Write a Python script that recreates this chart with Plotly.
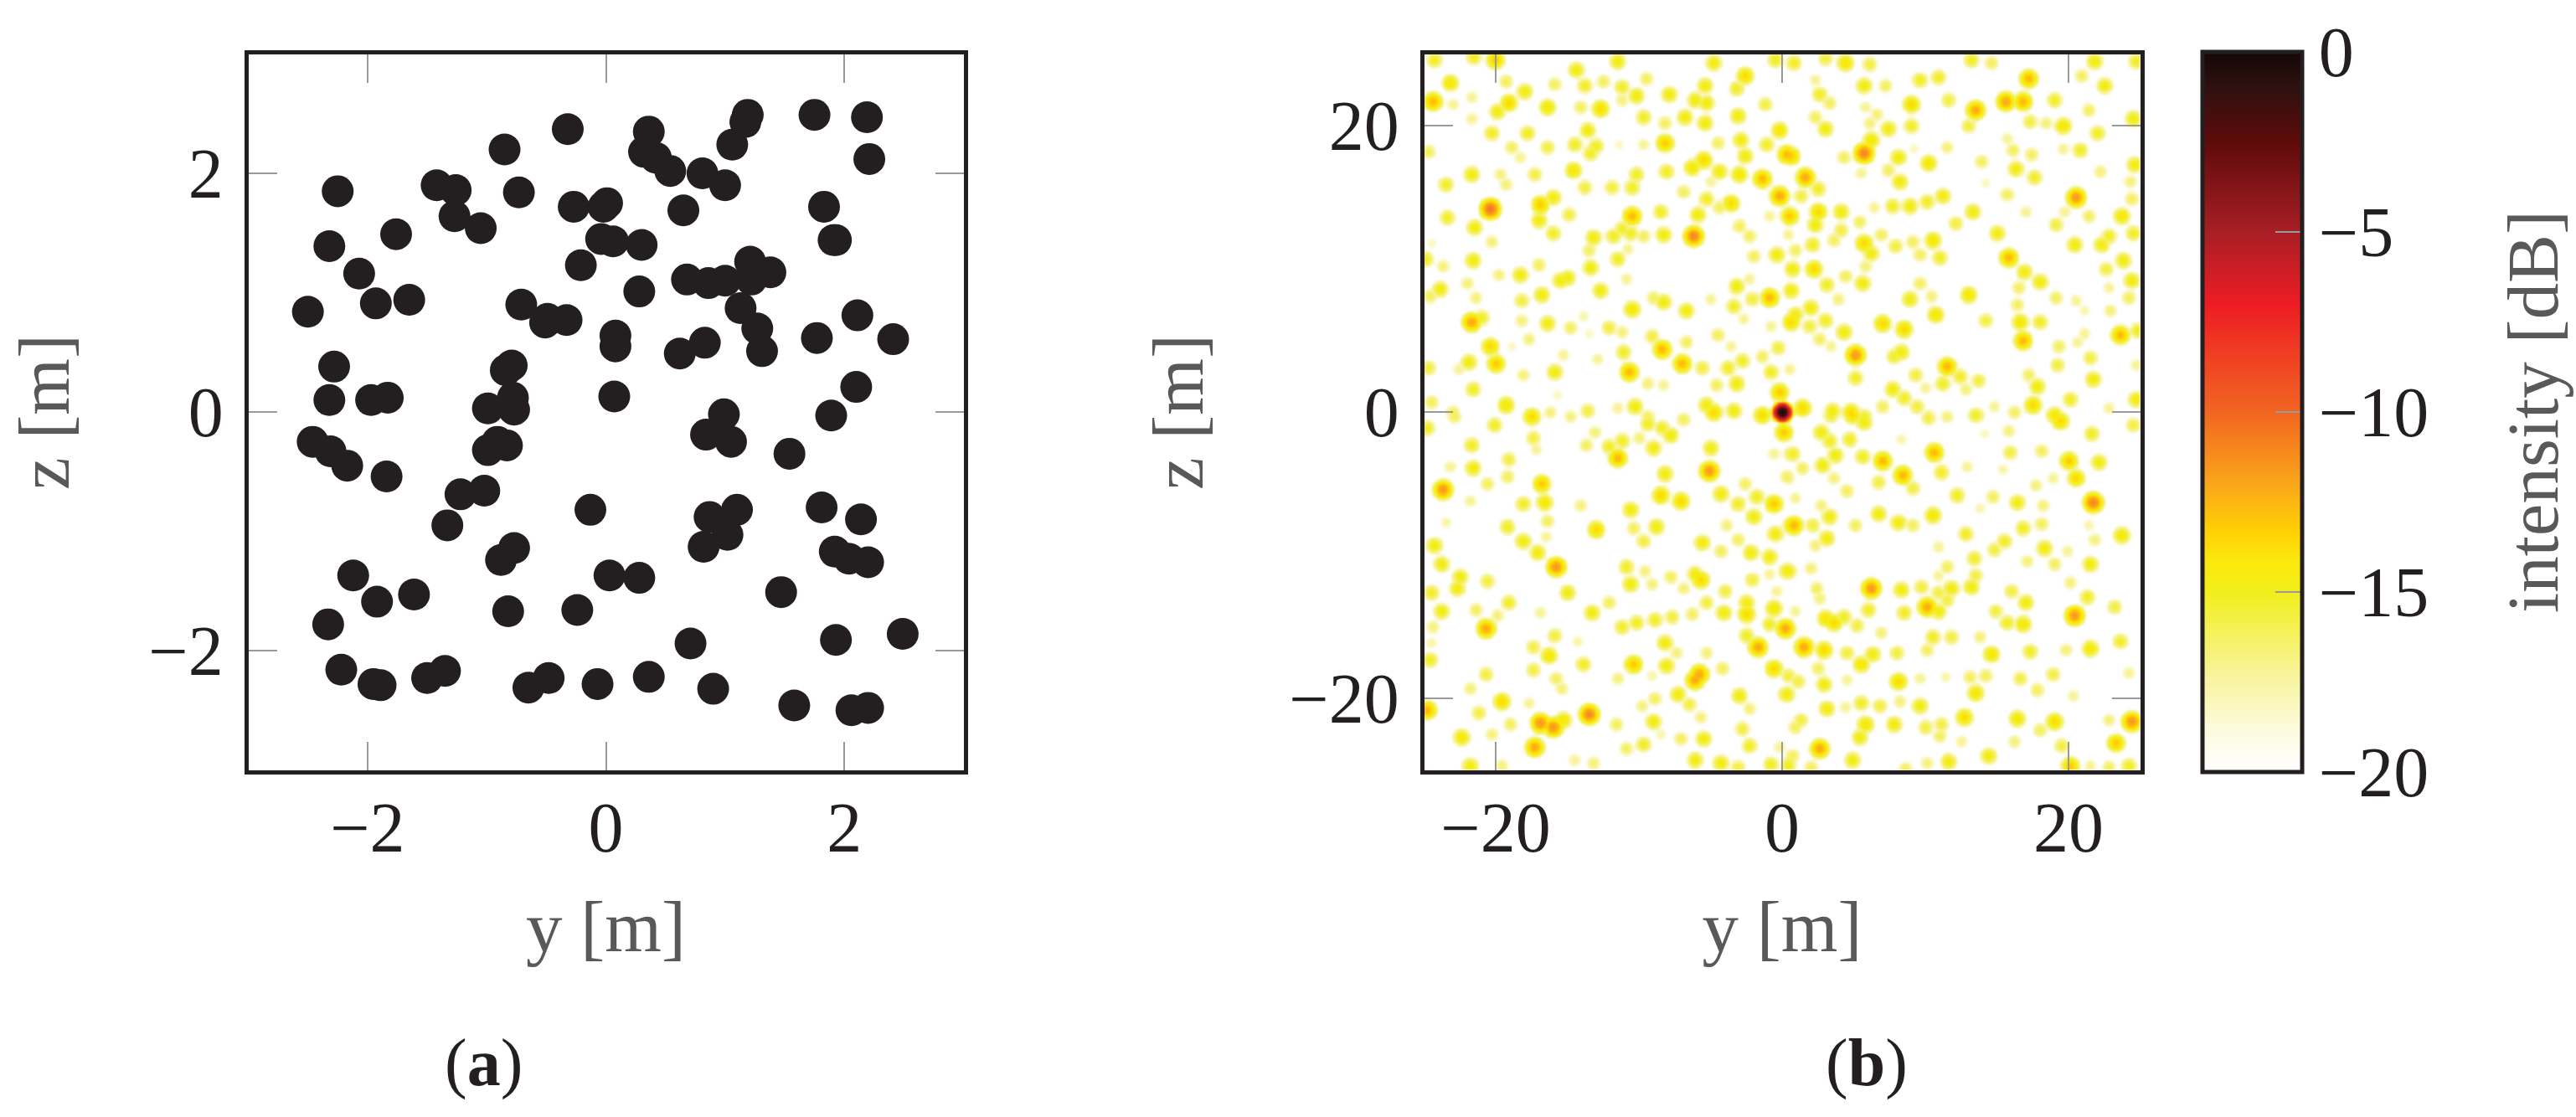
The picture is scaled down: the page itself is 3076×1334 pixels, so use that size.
import numpy as np
import plotly.graph_objects as go

W, H = 3076, 1334
INK = "#231f20"
GREY = "#58595b"
TICK = "#999a9c"
FONT = "Liberation Serif"

# (a) element positions [m]
element_y = [1.19,1.17,1.75,2.19,-0.32,0.36,1.06,-0.85,2.21,0.32,0.42,0.54,0.81,1.00,-2.25,-1.42,-1.26,-0.73,-0.27,0.01,-0.02,0.65,1.83,-1.27,-1.05,-1.76,-2.32,-0.04,0.06,0.30,1.93,1.91,-0.21,-2.07,1.21,1.38,0.68,0.86,1.00,1.22,0.28,-1.93,-1.65,-2.50,-0.71,-0.49,-0.51,-0.33,1.13,1.27,1.31,2.11,0.08,0.08,2.41,1.77,0.83,0.62,-2.28,-0.79,-0.84,-2.32,-1.97,-1.83,-0.78,-0.99,-0.77,0.07,2.10,0.99,1.89,
             -2.46,-2.31,-2.17,-1.84,-0.99,-0.91,-0.83,0.84,1.05,1.54,-1.22,-1.02,-1.33,-0.13,0.87,1.10,1.02,0.82,1.81,2.14,1.92,2.04,2.20,-0.77,-0.88,-2.12,0.03,0.28,-1.92,-1.61,-0.82,-0.24,1.47,-2.33,0.71,1.93,2.49,-2.22,-1.95,-1.89,-1.50,-1.35,-0.65,-0.48,-0.07,0.36,0.90,1.58,2.06,2.20]
element_z = [2.49,2.43,2.49,2.47,2.37,2.35,2.24,2.20,2.12,2.18,2.13,2.02,2.00,1.90,1.85,1.90,1.86,1.84,1.72,1.75,1.72,1.69,1.72,1.64,1.54,1.49,1.39,1.45,1.43,1.40,1.44,1.44,1.23,1.16,1.26,1.17,1.11,1.08,1.10,1.11,1.01,0.91,0.94,0.84,0.90,0.78,0.75,0.77,0.87,0.70,0.51,0.81,0.64,0.55,0.61,0.62,0.58,0.49,0.38,0.39,0.35,0.10,0.10,0.12,0.12,0.03,0.02,0.13,0.21,-0.02,-0.03,
             -0.25,-0.33,-0.45,-0.54,-0.32,-0.25,-0.28,-0.19,-0.25,-0.35,-0.69,-0.66,-0.95,-0.82,-0.88,-0.82,-1.03,-1.13,-0.80,-0.90,-1.17,-1.23,-1.26,-1.14,-1.24,-1.37,-1.37,-1.39,-1.59,-1.53,-1.67,-1.66,-1.51,-1.78,-1.94,-1.91,-1.86,-2.16,-2.28,-2.29,-2.23,-2.17,-2.31,-2.23,-2.28,-2.22,-2.32,-2.46,-2.50,-2.48]

# (b) intensity peaks: (y [m], z [m], level [dB])
peaks_upper_left = [
(-24.3,24.6,-16),(-21.55,24.8,-16),(-20.04,24.6,-13),(-14.4,23.9,-15.5),(-11.5,24.5,-15.5),(-4.8,24.4,-15.5),(-2.6,23.5,-13.5),(-0.5,24.6,-16),
(-23.2,23,-15),(-19.3,23.1,-17),(-18,22.4,-15.5),(-15.9,22.9,-17),(-13.8,22.8,-16),(-12.5,23.1,-17),(-11.2,22.7,-16),(-10.2,22.1,-15.5),(-11.2,21.8,-17.5),(-9.5,23.3,-17),(-7.9,22.2,-15.5),(-5.4,22.8,-15.5),(-6.1,21.8,-15.5),(-3.2,22.6,-16),
(-24.4,21.7,-12.5),(-23,21.5,-18),(-21.7,22,-18),(-19.1,21.6,-13.5),(-19.9,21,-15.5),(-16.4,21.3,-15),(-14.1,21.3,-17),(-12.7,21.2,-14.5),(-5.3,21.6,-15.5),(-1.2,21.5,-16.5),(-9.7,20.6,-16),(-6.8,20.6,-15.5),(-8.2,20.2,-17),(-5.4,20.2,-15.5),(-3.1,20.7,-15.5),(-21.7,20.5,-18),
(-20.3,19.5,-16),(-17.8,19.5,-16),(-13.6,19.7,-15.5),(-0.2,19.7,-15),(-2.9,19,-15.5),(-8.2,18.8,-13),(-18.9,18.5,-17),(-16.4,18.5,-16.5),(-14.5,18.7,-16),(-13,18.6,-16),(-13.4,18.1,-16),(-11.4,18.7,-19),(-9.7,18.7,-18),(-4.5,18.8,-17),(-24.7,18.2,-17),(-18.3,17.8,-18),(-1.1,18.7,-16),(0.3,18,-12.5),(-2.6,17.9,-15.5),(-5.5,17.6,-13.5),(-6.3,17.1,-15),(-4.4,16.8,-15.5),
(-21.7,16.6,-15.5),(-19.7,16.6,-17.5),(-17.3,16.6,-16.5),(-14.6,16.9,-15),(-10.2,16.6,-16),(-8.1,16.8,-16),(-3,16.6,-15),(-1.4,16.3,-12.5),(-23.5,15.9,-16),(-19.3,15.9,-17.5),(-13.8,15.7,-16.5),(-11.9,15.7,-16.5),(-10.5,15.7,-16),(-6.9,15.4,-17),(-5,16.1,-18),(-0.2,15.1,-12),
(-20.4,14.2,-10.5),(-16.9,14.5,-13),(-16,15,-15.5),(-5.3,14.9,-16),(-3.6,14.6,-13.5),(-4.4,14.3,-17),(-23.4,13.6,-16),(-14.9,13.8,-16.5),(-17,13.4,-15.5),(-10.5,13.7,-12.5),(-8.5,14,-16),(-5.9,13.8,-15.5),(-0.9,13.7,-18),
(-21.5,12.9,-15.5),(-16,12.5,-16),(-13.2,12.2,-15.5),(-11.2,12.8,-16),(-10.6,12.5,-16),(-11.8,12.3,-16),(-9.7,12.3,-17),(-8.3,12.4,-15.5),(-6.2,12.3,-11),(-3,13,-17),(-2.3,12.3,-17),(-20.3,11.9,-17.5),(-24.5,11.8,-19),
(-21.6,10.6,-15.5),(-13.5,11.3,-17),(-10.8,11.4,-18),(-11.5,10.7,-16),(-2,10.9,-17),(-0.4,11,-15.5),(-24.9,10.7,-16),(-23.7,10.2,-17.5),(-13.4,10.1,-15.5),(-17,10.3,-17),(-18.3,9.6,-15.5),(-19.8,9.6,-17.5),(-15,9.4,-15.5),(-15.5,9.2,-15.5),(-10.9,9.3,-18),(-22,9,-17.5),(-23.9,8.6,-15.5),(-24.6,8.1,-17),(-3.2,8.8,-15.5),(-12.7,8.5,-15.5),(-0.9,8,-12.5),(-2.1,7.9,-16.5),(-2.3,9.3,-18),
(-16.8,8.2,-15.5),(-18.2,7.8,-16.5),(-21.4,8,-17.5),(-8.3,7.7,-15.5),(-9,8,-17),(-5,7.9,-18),(-3.4,7.4,-16),(-10.5,7.2,-15),(-6.7,7.1,-15.5),(-21.7,6.3,-12),(-21,6.6,-16),(-2.7,6.5,-18),(-18.2,6.4,-17.5),(-16.4,6.2,-15.5),(-13.9,6.7,-18.5),(-14.8,5.9,-17),(-12.1,5.9,-16.5),(-11.2,5.6,-17.5),(-0.8,6,-18),(-13.5,5.5,-19),(-4.5,5.4,-17),(-9.1,5.3,-16.5),(-17.7,5.1,-17.5),
(-20.4,4.6,-13.5),(-18.9,4.6,-19),(-6.7,4.9,-17),(-8.4,4.4,-12.5),(-3.6,4.6,-18),(-0.3,4.5,-16.5),(-11.1,4.2,-16),(-15.3,4,-18),(-12.9,3.7,-18),(-7,3.4,-12.5),(-20,3.4,-13),(-21.9,3.5,-15.5),(-22.6,3,-18),(-24.7,3.1,-16.5),(-2.8,3.6,-16),(-1.4,3.9,-17),(-5.6,3.1,-16.5),(-3.8,3.1,-16),(-15.9,2.8,-15.5),(-10.7,2.8,-12.5),(-18.1,2.6,-17.5),(-0.8,2.8,-16),
(-3.2,2,-15.5),(-4.6,1.9,-17),(-9.4,2,-17.5),(-8.3,1.9,-18),(-21.6,1.6,-16),(-24.5,0.7,-17),(-15.7,1.2,-19),(-0.2,1.4,-13),(-19.3,0.5,-14),(-5.3,0.5,-15.5),(-10.3,0.4,-15.5),(-11.5,0.3,-18),(-13.6,0.1,-16.5),(-16.2,0,-17.5),(-4.8,0,-13.5),(-3.4,0.1,-15.5),(-1.4,-0.2,-13.5),(-17.5,-0.3,-14.5),(-23,0,-17),(-14.8,-0.3,-17.5),(-9.4,-0.3,-17),
]
peaks_upper_right = [
(0.8,24.4,-16),(3,24.7,-16.5),(4.4,24.4,-14),(6.1,24.3,-16.5),(13.2,24.6,-16),(14.6,24.4,-17),(21.8,24.5,-15.5),(24.7,24.5,-16),(2.3,23.2,-18),(5.7,22.8,-15.5),(7.2,22.8,-17),(9.6,23.2,-16),(10.9,23.4,-16),(17.2,23.3,-12.5),(20.9,23.5,-17),(22.5,22.8,-15.5),
(2.6,22.2,-16),(3.3,21.6,-17),(9,21.5,-14.5),(11.6,21.8,-16.5),(13.5,21.1,-12),(15.6,21.7,-12),(16.8,21.7,-12.5),(19,21.8,-16),(21.4,21.1,-17),(5.8,21.3,-18),(6.6,20.8,-17.5),(3,19.8,-15.5),(2.3,20.6,-17),(7.4,19.8,-15.5),(6.1,20.2,-17.5),(9,20,-16),(13,20,-16.5),(17.3,20.3,-16.5),(18.4,20.2,-17.5),(19.6,20,-14),(24.5,20.5,-15.5),(22,19.5,-16),
(5.7,18.1,-11),(6.2,19,-14),(0.6,17.9,-13),(8.1,17.8,-15.5),(10.2,17.4,-14),(4.3,17.8,-17),(11.5,18.5,-17.5),(9.2,18.4,-19),(13.9,17.5,-17),(15.7,19.1,-18),(16.1,18.3,-17),(16.3,17,-15.5),(17.4,18,-17),(20.8,18.3,-16),(19.6,18.4,-18),(24.6,17.3,-15.5),(22.2,16.8,-17.5),
(1.6,16.4,-12),(2.5,15.6,-16),(5.5,16.7,-18),(7.4,16.9,-17),(8.2,16.1,-15.5),(17.6,16.4,-16),(24.3,16.1,-17.5),(20.5,15,-11.5),(15.7,15.2,-17),(14.2,16,-19),(11.2,15.1,-15.5),(10.1,14.7,-16),(8.9,14.4,-15.5),(7.7,14.4,-16),(6.4,14.3,-18),(1.3,15.1,-16.5),
(0.5,13.7,-13),(2.5,14,-14.5),(2.3,13.1,-15.5),(4.1,14,-15.5),(5.4,13.3,-17),(24.4,14.9,-17),(23.7,13.7,-15),(13.3,14,-15.5),(12.1,13.2,-16.5),(17,14,-18),(19.1,13.1,-16.5),(21.4,13.7,-17),(19.7,14,-18),
(4.1,12.7,-16.5),(3.6,12,-17),(6.9,12.4,-17),(2.1,11.7,-16),(0.4,12.4,-18),(5.7,11.8,-14.5),(6.2,11.1,-15.5),(7.9,11.6,-16.5),(9.1,11.9,-17),(10.5,12,-15),(15,12.5,-15.5),(20.4,11.7,-15.5),(22.3,11.7,-15.5),(22.8,12.3,-16),(24.5,12.5,-16),(0.9,11.3,-17),(9.6,11,-17),(11,10.8,-16),(15.8,10.8,-12.5),(23.8,10.6,-15.5),
(22.6,10,-16.5),(0.7,10,-15.5),(2.2,10,-14.5),(3.1,8.9,-16),(4.4,9.5,-17),(5.6,9,-15.5),(5.8,10.2,-17.5),(16.9,9.8,-15.5),(18,9.1,-15.5),(16.5,8.7,-17),(24.4,9.2,-15.5),(9.6,9,-17),(0.6,8.5,-15.5),(3.9,7.9,-17.5),(13,8.2,-15),(8.9,7.9,-15.5),(10.4,8.1,-17.5),(19.1,8,-17),(22.8,8.7,-18),(24.2,8,-17),
(1.97,7.3,-15.5),(0.9,6.8,-15.5),(0.6,6.3,-13.5),(3,6.4,-16),(16.4,7.5,-17),(20.5,7.8,-18),(21.1,7.1,-18.5),(22.9,7.1,-17.5),(10.7,6.8,-15),(14.2,6.4,-16.5),(16.6,6.3,-15),(18,6.3,-16),(7,6.2,-13.5),(4.3,5.6,-15.5),(8.5,5.8,-14.5),(1.9,6,-16.5),(2.6,5.1,-17),(16.8,5,-12.5),(23.6,5.4,-12.5),(21.1,5.5,-18),(24.8,5.7,-16),
(19.3,4.6,-17),(21.5,3.8,-16.5),(20.6,4.9,-18),(5.1,4,-11.5),(8.3,4.2,-15.5),(7.8,3.9,-16),(3.4,4.6,-18),(11.5,3.2,-12.5),(12.4,2.5,-16),(12.8,1.6,-17.5),(19.2,3.3,-16.5),(21.7,2.3,-15.5),(24.7,3.3,-18),(5.1,2.4,-16),(0.5,3,-18),(9.3,2.6,-16.5),(11.2,2,-16),(13.7,2.2,-16.5),(17.2,2.6,-17),(17.8,1.8,-15.5),(10,1.7,-18),(7.7,1.6,-15.5),
(8.5,1,-16),(9.4,0.4,-16.5),(17.5,0.5,-14.5),(20.1,0.9,-16),(24.7,0.9,-15.5),(1.4,0.3,-14.5),(3.5,0.1,-15.5),(4.8,0,-13.5),(5.7,-0.3,-16),(7,0.4,-17),(14.8,0.4,-18),(16.2,0,-17),(13.5,-0.2,-16),(19,-0.2,-15),(10.2,-0.3,-17),(11.5,-0.3,-17.5),(22.8,0.3,-18),
]
peaks_lower_left = [
(-20.1,-0.9,-16),(-17.4,-1.8,-16.5),(-17.2,-2.6,-18),(-24.8,-1.1,-16),(-22.9,-0.3,-17),(-21.7,-2.3,-16),(-19.1,-3.3,-16.5),(-23.2,-3.8,-18),(-13.7,-2.3,-17),(-13.1,-1.4,-17.5),(-12.1,-2.4,-16),(-11.5,-3.2,-12.5),(-11.2,-2,-16),(-10,-1.8,-17.5),(-9,-2.5,-15.5),(-9.4,-0.8,-16),(-8.4,-1.1,-16),(-7.8,-1.6,-15.5),(-6.9,-0.5,-17),(-5,-2.5,-15.5),(0.1,-1.4,-13),(-0.6,-2.9,-18),(0.5,-2.9,-17),
(-5.1,-4.1,-11.5),(-8.2,-4.3,-15.5),(-21.6,-3.9,-15.5),(-20.6,-5,-17),(-19.2,-4.5,-17),(-23.7,-5.4,-11.5),(-16.8,-5,-13),(-16.6,-6.3,-15),(-18.1,-6.4,-16),(-21.8,-6.2,-18),(-14.1,-6.5,-17.5),(0.3,-4.5,-17),(-2.6,-5,-17),(-4.3,-5.7,-15.5),(-1.8,-5.9,-16),(-8.5,-5.8,-13.5),(-7.1,-6.2,-13.5),(-10.6,-6.8,-15.5),(-0.6,-6.4,-13),(-3.1,-6.4,-16),(-2,-7.3,-15.5),
(-23.5,-7.7,-18.5),(-16.4,-7.6,-17),(-19.2,-8,-16),(-13,-8.2,-13.5),(-10.4,-8.1,-17),(-8.8,-8,-15.5),(-3.9,-7.9,-17.5),(0.6,-7.9,-14),(-0.5,-8.5,-15.5),(-24.3,-9.3,-15.5),(-9.7,-9,-16.5),(-18.1,-9,-15.5),(-17.1,-9.8,-15.5),(-16.5,-8.7,-18),(-5.6,-9.1,-15.5),(-4.3,-9.7,-17),(-3.1,-8.9,-17),(-2.2,-9.8,-15.5),(-0.9,-10.1,-15.5),
(-23.8,-10.6,-15.5),(-15.8,-10.8,-11.5),(0.3,-11.1,-15.5),(-10.9,-10.8,-16),(-9.6,-11.1,-17.5),(-6.1,-11.3,-15.5),(-5.7,-11.7,-13.5),(-7.8,-11.5,-17),(-22.5,-11.5,-15.5),(-22.7,-12.3,-15.5),(-20.6,-11.8,-16.5),(-15,-12.6,-15.5),(-10.6,-12,-15.5),(-9.1,-12,-17.5),(-6.9,-12.3,-17.5),(-4,-12.5,-16.5),(-2.1,-11.7,-16.5),(-0.9,-11.3,-18),(-0.4,-12.5,-18),(-24.5,-12.6,-16),
(-19.1,-13.3,-16),(-23.8,-13.9,-15.5),(-5.3,-13.3,-16.5),(-2.5,-13.3,-15.5),(-2.5,-14.1,-13.5),(-0.6,-13.7,-14),(-13.3,-14,-15.5),(-12.1,-13.3,-17),(-4.1,-14,-15.5),(-7.7,-14.3,-16.5),(-6.3,-14.1,-17),(-8.9,-14.5,-16),(-10.2,-14.7,-16),(-11.2,-15,-16),(-16.9,-14,-18),(-21.4,-13.8,-17),(-20.7,-15.1,-12),(-19.9,-14.2,-17.5),(-24.4,-15,-17.5),(0.2,-15.1,-12),(-0.9,-14.8,-16),
(-2.5,-15.6,-16),(-24.5,-16.1,-18.5),(-15.9,-15.6,-16.5),(-14.3,-16,-18.5),(-17.4,-16.4,-16.5),(-16.3,-17,-15),(-17.4,-18,-16.5),(-24.6,-17.3,-16),(-8.2,-16.1,-15.5),(-7.4,-16.8,-17.5),(-1.7,-16.4,-12),(-5.3,-16.8,-17.5),(-13.9,-17.6,-16),(-10.4,-17.6,-13),(-8.1,-17.7,-15.5),(-4.2,-17.9,-17),(-0.6,-17.9,-13.5),(-5.8,-18.3,-12),(-6.1,-18.7,-12),(-15.8,-18.6,-17),(-20.7,-18.3,-16.5),(-11.5,-18.6,-17.5),(-9.1,-18.4,-18.5),(0.5,-18.4,-17),
(-21.8,-19.3,-17.5),(-15.4,-19.3,-17.5),(-7.3,-19.7,-15.5),(-3,-19.8,-15.5),(0.2,-19.7,-16),(-19.6,-20.2,-13.5),(-17.7,-20.3,-18),(-6.5,-20.4,-16.5),(-9.8,-20.5,-17.5),(-8.9,-20,-17),(-2.3,-20.7,-17.5),(-24.8,-20.8,-12.5),(-21.2,-21,-16.5),(-13.5,-21.1,-11),(-16.9,-21.7,-11.5),(-16,-22,-11.5),(-15.3,-21.5,-15),(-5.7,-21.3,-17.5),(-9,-21.6,-15.5),(-19,-21.8,-17),(-11.6,-21.8,-17),(-2.8,-22.1,-16.5),
(-8.5,-22.5,-18.5),(-22.4,-22.7,-14),(-20.3,-22.5,-17.5),(-17.3,-23.4,-12),(-7.1,-22.8,-17),(-5.5,-22.8,-15.5),(-9.7,-23.2,-16),(-2.3,-23.3,-16),(-10.9,-23.5,-17),(-0.2,-23.4,-18),(-21.8,-24.7,-15.5),(-19.6,-24.7,-17.5),(-14.5,-24.3,-18),(-13.2,-24.5,-17.5),(-6.1,-24.3,-15.5),(-4.3,-24.5,-15.5),(-3.1,-24.8,-16.5),(-0.8,-24.6,-16),(0.4,-24.6,-16),
]
peaks_lower_right = [
(4.9,-0.2,-13.5),(5.7,-0.7,-15.5),(3.4,-0.2,-16),(10.2,-0.4,-16.5),(11.5,-0.3,-17.5),(13.6,-0.2,-16.5),(16.2,0,-17),(19.4,-0.6,-14.5),(21.6,-1.5,-16),(24.5,-0.9,-16.5),(2.7,-1.4,-15.5),(3.3,-2,-16),(3.7,-3,-15.5),(4.7,-1.9,-16),(15.8,-1.3,-17.5),(14.1,-1.5,-19),(8.3,-1.9,-18.5),(10.6,-2.8,-12.5),(0.7,-2.9,-16),(5.6,-3.1,-16),(7,-3.4,-12.5),(2.8,-3.7,-15.5),(1.4,-3.9,-17),
(8.4,-4.4,-12.5),(6.7,-4.9,-16.5),(9.1,-5.3,-16.5),(11.1,-4.2,-16),(12.9,-3.8,-18),(15.9,-2.8,-16.5),(18.1,-2.7,-17),(15.4,-4,-18.5),(20,-3.4,-13),(22.1,-3.5,-15.5),(20.5,-4.6,-14.5),(17.7,-5.1,-17.5),(18.9,-4.6,-18),(3.6,-4.6,-17.5),(0.4,-4.6,-17.5),(4.5,-5.5,-17),(12.2,-5.8,-16),(14.7,-5.9,-17),(16.4,-6.3,-15.5),(18.2,-6.5,-17.5),(21.7,-6.3,-11),(0.9,-6,-18),(13.8,-6.7,-18.5),
(3.3,-7.3,-15.5),(2.7,-6.5,-17.5),(0.8,-7.9,-12.5),(2.1,-7.9,-16.5),(3.1,-8.8,-15.5),(2.3,-9.3,-17.5),(6.7,-7.1,-15.5),(5.1,-7.9,-17),(8.1,-7.7,-15.5),(9.1,-7.9,-17),(10.5,-7.2,-15),(12.8,-8.5,-16),(10.9,-9.4,-18),(15.5,-9,-16),(14.8,-9.6,-16.5),(16.8,-8.1,-16),(18.1,-7.8,-17),(18.3,-9.5,-15.5),(19,-10.6,-17),(17.1,-10.4,-17.5),(21.8,-8.9,-17.5),(21.4,-7.9,-18.5),(23.7,-8.6,-15),(19.9,-9.7,-18),(21.5,-10.6,-15.5),
(0.4,-11.1,-15.5),(2,-10.9,-17.5),(2.4,-12.3,-17),(2.6,-13,-17.5),(11.5,-10.8,-17),(13.4,-10.2,-16),(13.5,-11.4,-16.5),(10.9,-11.4,-18),(11.8,-12.3,-15.5),(13.2,-12.2,-15.5),(9.7,-12.2,-16.5),(8.3,-12.4,-15.5),(6.2,-12.3,-11.5),(10.9,-12.6,-16.5),(11.5,-13.1,-16.5),(20.1,-11.9,-17.5),(16,-12.5,-16.5),(17,-13.3,-15.5),(21.3,-12.9,-16),(23.2,-13.6,-16.5),(20.4,-14.2,-11.5),(14.9,-13.9,-16.5),(15.7,-14.7,-16),(16.8,-14.8,-15),
(0.9,-13.9,-18),(3,-14.4,-14),(3.6,-14.7,-13.5),(4.3,-14.3,-16),(5.2,-14.9,-16.5),(6,-13.8,-16),(8.5,-14,-16),(10.1,-13.6,-12),(10.9,-13.9,-15.5),(6.9,-15.4,-17.5),(10.5,-15.7,-16),(11.8,-15.7,-16.5),(13.8,-15.7,-17.5),(1.5,-16.4,-12),(2.9,-16.6,-13.5),(4.5,-16.8,-16.5),(5.5,-17.6,-14),(6.3,-16.9,-15.5),(8,-16.8,-16.5),(10.1,-16.6,-17),(14.6,-16.9,-15),(17.3,-16.7,-16),(19.8,-16.6,-17.5),(21.5,-16.5,-15),(23.6,-16,-16),
(2.5,-17.9,-17),(0.4,-18.4,-16.5),(1.1,-18.8,-16.5),(2.9,-19,-15.5),(4.5,-18.7,-18),(8.1,-18.8,-13.5),(9.6,-18.6,-18),(11.4,-18.5,-18.5),(13.1,-18.5,-17),(14.2,-18.4,-17),(13.5,-19.6,-15),(16.6,-18.6,-16.5),(18.9,-18.3,-16.5),(17.8,-19.4,-17),(24.2,-18.2,-18),(0.3,-19.7,-15.5),
(3.1,-20.7,-15.5),(4.4,-20.6,-18),(5.5,-20.3,-16),(6.8,-20.5,-16.5),(8.2,-20.2,-17.5),(9.6,-20.5,-15.5),(12.7,-21.3,-13.5),(16.4,-21.4,-15),(19,-21.6,-13.5),(20.3,-19.8,-18),(22.8,-21.5,-17.5),(24.4,-21.6,-11.5),(1.3,-21.5,-16.5),(0.9,-22,-17),(7.8,-21.8,-15.5),(5.8,-21.8,-15),(5.4,-22.7,-15.5),(11.1,-21.8,-16.5),(10,-22,-16.5),(11,-22.6,-17),(18,-22.2,-17),(16.2,-23,-17.5),(23.3,-23.1,-13),(19.5,-23.3,-16.5),
(2.6,-23.5,-12),(0.7,-24,-17),(4.9,-24.3,-15.5),(12.5,-23,-18),(14.4,-24,-15.5),(11.6,-24.4,-15.5),(10.1,-24.5,-17.5),(0.4,-24.7,-16),(2,-24.8,-17),(20.1,-24.7,-13),(21.5,-24.7,-18),(22.8,-24.8,-17),(24.2,-24.7,-16),(8.6,-24.9,-17),
]
focus_peak = [(0,0,0)]

# each read peak falls off with the array's focal spot width; weak peaks read about 1 dB low
spot_db_per_m2 = 10.0
focus_db_per_m2 = 24.0
weak_peak_limit_db = -14.0
weak_peak_correction_db = 1.0
grid = np.linspace(-25, 25, 251)
gy, gz = np.meshgrid(grid, grid)
level = np.full(gy.shape, -30.0)
for y_v, z_v, db in peaks_upper_left + peaks_upper_right + peaks_lower_left + peaks_lower_right:
    peak = db + weak_peak_correction_db if db < weak_peak_limit_db else db
    level = np.maximum(level, peak - spot_db_per_m2 * ((gy - y_v) ** 2 + (gz - z_v) ** 2))
for y_v, z_v, db in focus_peak:
    level = np.maximum(level, db - focus_db_per_m2 * ((gy - y_v) ** 2 + (gz - z_v) ** 2))

colorscale = [
    [0.00, "#ffffff"], [0.06, "#fdfbdc"], [0.13, "#f8f4a0"], [0.25, "#f2ee1c"], [0.29, "#fbe90c"],
    [0.335, "#ffd005"], [0.40, "#faa61a"], [0.50, "#f26522"], [0.65, "#ed1c24"], [0.75, "#a71f25"],
    [0.875, "#5f0a0a"], [0.95, "#2e1110"], [1.00, "#140607"],
]

# layout in page pixels (axis lines are drawn just outside these boxes)
A_X = (296.5, 1150.5)
B_X = (1700.5, 2555.5)
TOP, BOTTOM = 64.5, 919.5
CB_L, CB_R = 2630, 2749
CB_TOP, CB_BOTTOM = 62, 922
TICK_LEN = 34

def dom(a, b, total):
    return [a / total, b / total]

fig = go.Figure()
fig.add_trace(go.Scatter(
    x=element_y, y=element_z, mode="markers", xaxis="x", yaxis="y",
    marker=dict(size=38, color=INK, line=dict(width=0)), hoverinfo="skip", showlegend=False,
))
fig.add_trace(go.Heatmap(
    x=grid, y=grid, z=level, xaxis="x2", yaxis="y2", zmin=-20, zmax=0, zsmooth="best",
    colorscale=colorscale, hoverinfo="skip",
    colorbar=dict(
        thickness=CB_R - CB_L, thicknessmode="pixels", len=CB_BOTTOM - CB_TOP, lenmode="pixels",
        x=CB_L / W, xanchor="left", xpad=0, y=1 - (CB_TOP + CB_BOTTOM) / 2 / H, yanchor="middle", ypad=0,
        outlinewidth=5, outlinecolor=INK, borderwidth=0,
        tickvals=[0, -5, -10, -15, -20], ticks="inside", ticklen=TICK_LEN, tickwidth=2, tickcolor=TICK,
        tickfont=dict(family=FONT, size=84, color=INK), tickprefix="\u00a0\u00a0",
    ),
))

def axis(domain, rng, ticks, title, standoff, anchor, label_off):
    return dict(
        domain=domain, range=rng, tickvals=ticks, ticks="inside", ticklen=TICK_LEN, tickwidth=2, tickcolor=TICK,
        showline=True, linewidth=5, linecolor=INK, mirror="ticks", showgrid=False, zeroline=False,
        tickfont=dict(family=FONT, size=84, color=INK), anchor=anchor, ticklabelstandoff=label_off,
        title=dict(text=title, font=dict(family=FONT, size=87, color=GREY), standoff=standoff),
    )

Y_DOM = [1 - BOTTOM / H, 1 - TOP / H]
layout = dict(
    width=W, height=H, margin=dict(l=0, r=0, t=0, b=0), autosize=False,
    paper_bgcolor="white", plot_bgcolor="white", showlegend=False,
    xaxis=axis(dom(*A_X, W), [-3, 3], [-2, 0, 2], "y [m]", 42, "y", -8),
    yaxis=axis(Y_DOM, [-3, 3], [-2, 0, 2], "z [m]", 67, "x", 8),
    xaxis2=axis(dom(*B_X, W), [-25, 25], [-20, 0, 20], "y [m]", 42, "y2", -8),
    yaxis2=axis(Y_DOM, [-25, 25], [-20, 0, 20], "z [m]", 75, "x2", 8),
)
shapes = []
for v in (-5, -10, -15):
    yp = 1 - (CB_TOP + (CB_BOTTOM - CB_TOP) * (-v) / 20) / H
    shapes.append(dict(type="line", xref="paper", yref="paper", x0=CB_L / W, x1=(CB_L + TICK_LEN) / W, y0=yp, y1=yp,
                       line=dict(color=TICK, width=2)))
layout["shapes"] = shapes
layout["annotations"] = [
    dict(text="intensity [dB]", textangle=-90, xref="paper", yref="paper", x=3024 / W, y=1 - 492 / H,
         xanchor="center", yanchor="middle", showarrow=False, font=dict(family=FONT, size=87, color=GREY)),
    dict(text="(<b>a</b>)", xref="paper", yref="paper", x=577 / W, y=1 - 1269 / H,
         xanchor="center", yanchor="middle", showarrow=False, font=dict(family=FONT, size=80, color=INK)),
    dict(text="(<b>b</b>)", xref="paper", yref="paper", x=2229 / W, y=1 - 1269 / H,
         xanchor="center", yanchor="middle", showarrow=False, font=dict(family=FONT, size=80, color=INK)),
]
fig.update_layout(**layout)
fig.write_html("out.html", config={"displayModeBar": False},
               post_script="document.body.style.margin='0';document.body.style.overflow='hidden';")
